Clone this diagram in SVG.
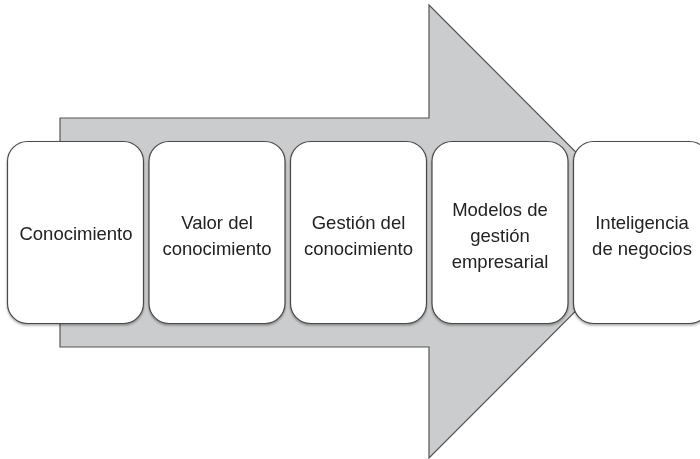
<svg xmlns="http://www.w3.org/2000/svg" width="700" height="459" viewBox="0 0 700 459">
<defs>
<style>
.box{fill:#fff;stroke:#4a4a4a;stroke-width:1.2}
.t{font-family:"Liberation Sans",Arial,sans-serif;font-size:18.5px;fill:#222;text-anchor:middle}
</style>
<filter id="sh" x="-10%" y="-10%" width="120%" height="120%">
<feDropShadow dx="0" dy="1.5" stdDeviation="1.2" flood-color="#000" flood-opacity="0.35"/>
</filter>
</defs>
<rect width="700" height="459" fill="#fff"/>
<g id="arrow">
<path d="M60,118 L429,118 L429,5 L655,231.5 L429,458 L429,347 L60,347 Z" fill="#cbcccd" stroke="#555" stroke-width="1.2"/>
</g>
<g id="n1" filter="url(#sh)">
<rect class="box" x="7.5" y="141.5" width="136" height="182" rx="20"/>
<text class="t" x="76" y="240">Conocimiento</text>
</g>
<g id="n2" filter="url(#sh)">
<rect class="box" x="149" y="141.5" width="136" height="182" rx="20"/>
<text class="t" x="217" y="229">Valor del</text>
<text class="t" x="217" y="255">conocimiento</text>
</g>
<g id="n3" filter="url(#sh)">
<rect class="box" x="290.5" y="141.5" width="136" height="182" rx="20"/>
<text class="t" x="358.5" y="229">Gestión del</text>
<text class="t" x="358.5" y="255">conocimiento</text>
</g>
<g id="n4" filter="url(#sh)">
<rect class="box" x="432" y="141.5" width="136" height="182" rx="20"/>
<text class="t" x="500" y="216">Modelos de</text>
<text class="t" x="500" y="242">gestión</text>
<text class="t" x="500" y="268">empresarial</text>
</g>
<g id="n5" filter="url(#sh)">
<rect class="box" x="573.5" y="141.5" width="136" height="182" rx="20"/>
<text class="t" x="642" y="229">Inteligencia</text>
<text class="t" x="642" y="255">de negocios</text>
</g>
<g id="connectors"></g>
</svg>
